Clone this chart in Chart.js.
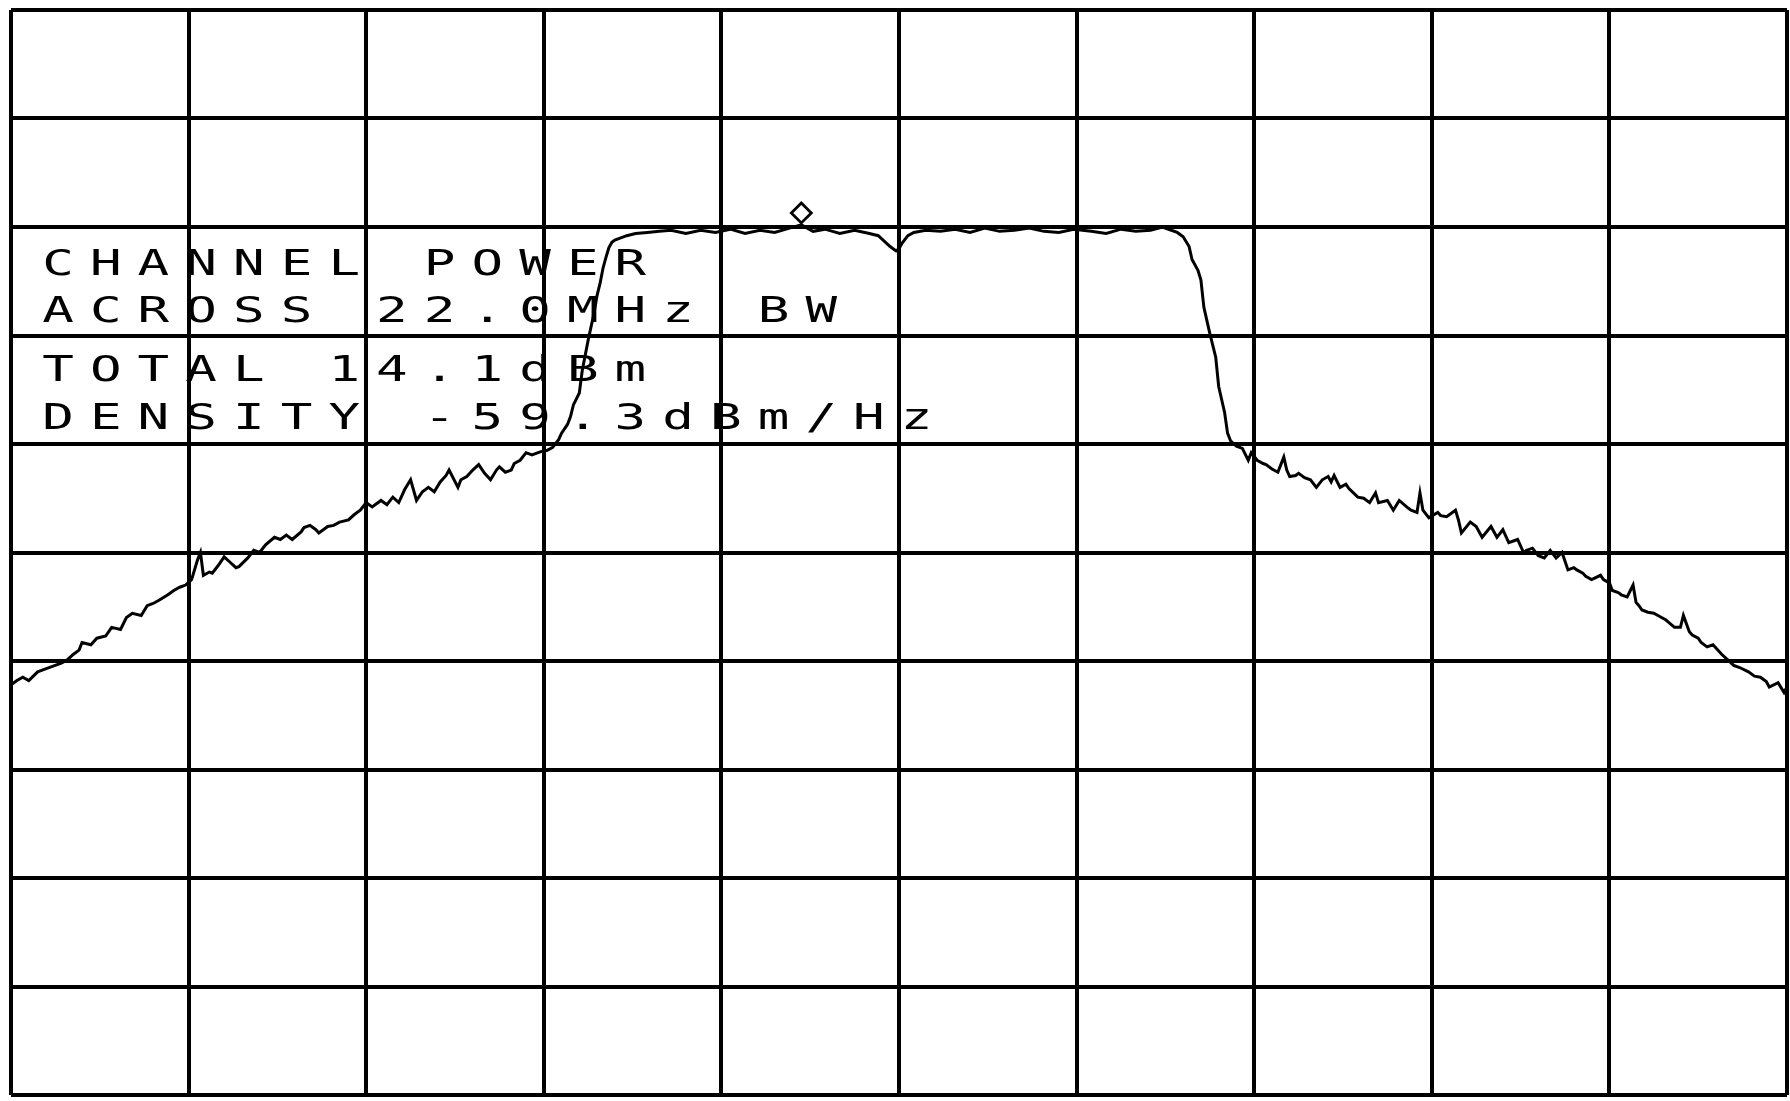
<!DOCTYPE html>
<html>
<head>
<meta charset="utf-8">
<script src="https://cdn.jsdelivr.net/npm/chart.js@4.4.1/dist/chart.umd.min.js"></script>
<style>
  html, body { margin: 0; padding: 0; background: #fff; overflow: hidden; }
  canvas { display: block; }
</style>
</head>
<body>
<canvas id="spectrum" width="1790" height="1101"></canvas>
<script>
// Sweep of 601 trace points (index 0..600); level in dBm, ref level +10 dBm, 10 dB/div.
const lowerSkirtPoint = [0,2,4,6,9,11,14,17,19,21,23,24,27,29,32,34,37,39,41,44,46,48,50,53,55,57,59,61,63,64,65,67,68,70,72,74,76,77,80,82,84,86,89,91,93,95,98,99,101,103,104,107,109,111,114,116,118,120,122,125,127,129,131,133,135,137,139,141,143,145,147,148,151,152,154,156,158,160,162,164,165,167,169,170,172,174,176,179,181,183,185,186];
const lowerSkirtLevel = [-52.2,-51.8,-51.5,-51.8,-51.0,-50.8,-50.5,-50.2,-49.9,-49.4,-49.0,-48.3,-48.5,-47.9,-47.7,-46.9,-47.1,-46.0,-45.6,-45.8,-44.9,-44.7,-44.4,-43.9,-43.5,-43.2,-43.0,-42.5,-40.7,-40.0,-42.1,-41.8,-41.9,-41.2,-40.4,-40.9,-41.4,-41.3,-40.5,-39.8,-40.0,-39.3,-38.6,-38.8,-38.4,-38.8,-38.1,-37.7,-37.5,-37.9,-38.2,-37.6,-37.5,-37.2,-37.0,-36.5,-36.1,-35.4,-35.8,-35.2,-35.6,-34.9,-35.4,-34.2,-33.3,-35.2,-34.4,-34.0,-34.4,-33.5,-32.9,-32.4,-34.0,-33.3,-33.0,-32.4,-31.9,-32.7,-33.3,-32.4,-32.1,-32.6,-32.4,-31.8,-31.5,-30.8,-31.0,-30.7,-30.6,-30.3,-29.6,-29.0];

const channelPoint = [188,189,190,192,193,195,197,198,199,200,201,202,203,204,206,208,211,215,219,223,228,233,238,243,248,253,258,263,267,271,275,280,285,290,293,295,297,299,300,301,303,305,309,314,319,324,329,334,339,344,349,354,359,365,370,375,380,385,389,392,394,396,398,399,401,402,403,405,407,408,410,411,412];
const channelLevel = [-28.2,-27.5,-26.4,-25.3,-23.2,-20.4,-17.9,-16.3,-15.2,-13.8,-12.8,-11.9,-11.4,-11.2,-11.0,-10.8,-10.6,-10.5,-10.4,-10.3,-10.6,-10.3,-10.5,-10.2,-10.6,-10.3,-10.5,-10.1,-9.8,-10.4,-10.2,-10.6,-10.3,-10.6,-10.8,-11.3,-11.8,-12.2,-12.0,-11.5,-10.8,-10.5,-10.3,-10.4,-10.2,-10.5,-10.1,-10.4,-10.3,-10.1,-10.4,-10.5,-10.2,-10.4,-10.6,-10.2,-10.4,-10.3,-10.0,-10.3,-10.5,-10.9,-11.8,-13.0,-14.0,-14.9,-17.4,-19.8,-22.0,-24.7,-27.1,-29.0,-29.7];

const upperSkirtPoint = [414,416,418,419,421,423,424,426,428,429,430,431,432,434,435,437,439,441,443,445,446,447,449,451,452,455,457,459,461,462,465,467,469,472,473,475,476,477,479,482,483,485,488,489,490,493,495,497,500,502,504,506,509,511,512,514,516,518,520,522,524,526,528,529,531,532,534,537,538,540,541,543,544,546,548,549,550,551,553,555,557,559,562,564,565,567,568,570,571,573,575,576,578,580,582,584,587,589,591,593,594,597,599,600];
const upperSkirtLevel = [-30.2,-30.4,-31.5,-30.8,-31.5,-31.8,-31.9,-32.3,-32.6,-31.9,-31.2,-32.4,-33.0,-32.9,-32.7,-33.1,-33.3,-34.0,-33.3,-33.0,-33.5,-32.9,-34.0,-33.7,-34.1,-34.9,-35.0,-35.4,-34.5,-35.4,-35.2,-36.1,-35.2,-35.9,-36.1,-36.3,-34.5,-36.1,-36.8,-36.3,-36.6,-36.7,-36.1,-37.0,-38.2,-37.2,-37.6,-38.6,-37.6,-38.6,-37.9,-39.1,-38.8,-40.0,-39.8,-39.6,-40.3,-40.5,-39.8,-40.5,-40.0,-41.6,-41.4,-41.6,-41.9,-42.2,-42.5,-42.1,-42.5,-42.8,-43.5,-43.7,-43.9,-44.1,-43.0,-44.6,-44.9,-45.3,-45.5,-45.6,-45.9,-46.2,-46.9,-46.9,-45.8,-47.3,-47.6,-47.9,-48.3,-48.7,-48.5,-48.8,-49.4,-49.9,-50.4,-50.6,-51.0,-51.4,-51.5,-51.9,-52.4,-52.0,-52.9,-52.4];

// Peak marker
const markerPoint = [267];
const markerLevel = [-8.7];

// Channel power readout
const readoutLines = [
  'CHANNEL POWER',
  'ACROSS 22.0MHz BW',
  'TOTAL 14.1dBm',
  'DENSITY -59.3dBm/Hz'
];

const sweepLast = 600;
const refLevel = 10;
const dbPerDiv = 10;
const divisions = 10;

const toXY = (xs, ys) => xs.map((x, i) => ({ x, y: ys[i] }));
const traceData = [].concat(
  toXY(lowerSkirtPoint, lowerSkirtLevel),
  toXY(channelPoint, channelLevel),
  toXY(upperSkirtPoint, upperSkirtLevel)
);

// Plotter-style readout: fixed character pitch, wide glyphs.
const readoutPlugin = {
  id: 'readout',
  afterDatasetsDraw(chart) {
    const { ctx, chartArea } = chart;
    const pitch = 47.7;
    const firstCenter = chartArea.left + 47;
    const baselines = [265, 312, 371, 419];
    ctx.save();
    ctx.fillStyle = '#000';
    ctx.font = '35px "DejaVu Sans Mono", "Liberation Mono", monospace';
    ctx.textAlign = 'center';
    ctx.textBaseline = 'alphabetic';
    readoutLines.forEach((line, row) => {
      const y = chartArea.top + baselines[row];
      [...line].forEach((ch, i) => {
        if (ch === ' ') return;
        ctx.save();
        ctx.translate(firstCenter + i * pitch, y);
        ctx.scale(1.5, 1);
        ctx.fillText(ch, 0, 0);
        ctx.restore();
      });
    });
    ctx.restore();
  }
};

const gridStyle = {
  color: '#000',
  lineWidth: 4,
  drawTicks: false,
  tickLength: 0
};

new Chart(document.getElementById('spectrum'), {
  type: 'line',
  data: {
    datasets: [
      {
        label: 'Trace',
        data: traceData,
        borderColor: '#000',
        borderWidth: 3,
        pointRadius: 0,
        tension: 0,
        fill: false
      },
      {
        label: 'Marker',
        data: toXY(markerPoint, markerLevel),
        showLine: false,
        pointStyle: 'rectRot',
        pointRadius: 10,
        pointBorderWidth: 2.8,
        pointBorderColor: '#000',
        pointBackgroundColor: '#fff'
      }
    ]
  },
  options: {
    responsive: false,
    animation: false,
    devicePixelRatio: 1,
    layout: { autoPadding: false, padding: { left: 11, top: 10, right: 3, bottom: 6 } },
    plugins: {
      legend: { display: false },
      tooltip: { enabled: false }
    },
    scales: {
      x: {
        type: 'linear',
        min: 0,
        max: sweepLast,
        ticks: { display: false, stepSize: sweepLast / divisions },
        grid: gridStyle,
        border: { display: false }
      },
      y: {
        type: 'linear',
        min: refLevel - dbPerDiv * divisions,
        max: refLevel,
        ticks: { display: false, stepSize: dbPerDiv },
        grid: gridStyle,
        border: { display: false }
      }
    }
  },
  plugins: [readoutPlugin]
});
</script>
</body>
</html>
